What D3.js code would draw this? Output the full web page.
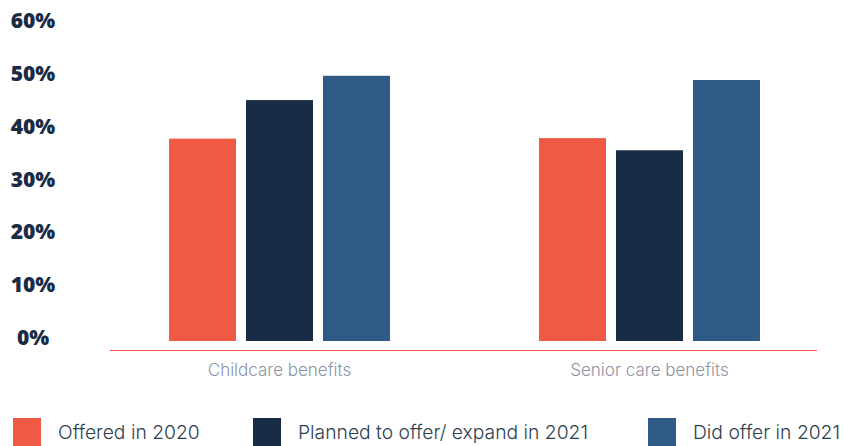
<!DOCTYPE html>
<html>
<head>
<meta charset="utf-8">
<script src="https://cdn.jsdelivr.net/npm/d3@7"></script>
<style>
  html, body { margin: 0; padding: 0; background: #fff; }
  svg { display: block; }
</style>
</head>
<body>
<div id="chart"></div>
<script>
// Benefit categories shown along the x axis
const categories = ["Childcare benefits", "Senior care benefits"];
// Series names (legend order)
const seriesNames = ["Offered in 2020", "Planned to offer/ expand in 2021", "Did offer in 2021"];
// Percent values per series, one per category
const offered2020 = [38.3, 38.4];
const planned2021 = [45.6, 36.1];
const didOffer2021 = [50.2, 49.4];
// Y axis tick values (percent)
const yTicks = [0, 10, 20, 30, 40, 50, 60];

const seriesValues = [offered2020, planned2021, didOffer2021];
const colors = ["#f05a44", "#182d45", "#2f5a85"];

const W = 843, H = 446;
const svg = d3.select("#chart").append("svg")
  .attr("width", W).attr("height", H);

const x0 = d3.scaleBand().domain(categories).range([94.5, 834.5]).padding(0);
const x1 = d3.scaleBand().domain(seriesNames).range([0, x0.bandwidth()])
  .paddingInner(0.13).paddingOuter(0.968);
const y = d3.scaleLinear().domain([0, 60]).range([341, 24]);

// Y axis labels only (no domain line or ticks)
const yAxis = svg.append("g")
  .attr("transform", "translate(33,0)")
  .call(d3.axisLeft(y).tickValues(yTicks).tickSize(0).tickPadding(0).tickFormat(d => d + "%"));
yAxis.select(".domain").remove();
yAxis.selectAll("text")
  .attr("text-anchor", "middle")
  .attr("dy", "0.36em")
  .attr("y", -4)
  .attr("fill", "#1a2b44")
  .style("font-family", "'Open Sans', Lato, sans-serif")
  .style("font-weight", "800")
  .style("font-size", "21px");

// Bars
const groups = svg.append("g").selectAll("g")
  .data(categories)
  .join("g")
  .attr("transform", d => `translate(${x0(d)},0)`);

groups.selectAll("rect")
  .data((d, i) => seriesNames.map((s, j) => ({ s, v: seriesValues[j][i], c: colors[j] })))
  .join("rect")
  .attr("x", d => x1(d.s))
  .attr("width", x1.bandwidth())
  .attr("y", d => y(d.v))
  .attr("height", d => y(0) - y(d.v))
  .attr("fill", d => d.c);

// Baseline
svg.append("line")
  .attr("x1", 110).attr("x2", 817)
  .attr("y1", 350.5).attr("y2", 350.5)
  .attr("stroke", "#f05a44").attr("stroke-width", 1.2);

// Category labels
svg.append("g").selectAll("text")
  .data(categories)
  .join("text")
  .attr("x", d => x0(d) + x0.bandwidth() / 2)
  .attr("y", 370)
  .attr("dy", "0.36em")
  .attr("text-anchor", "middle")
  .attr("fill", "#8a94a3")
  .style("font-family", "Inter, 'Open Sans', sans-serif")
  .style("font-weight", "300")
  .style("font-size", "17px")
  .text(d => d);

// Legend
const legendX = [13, 253, 648];
const legend = svg.append("g").selectAll("g")
  .data(seriesNames)
  .join("g")
  .attr("transform", (d, i) => `translate(${legendX[i]},418)`);
legend.append("rect")
  .attr("width", 28).attr("height", 28)
  .attr("fill", (d, i) => colors[i]);
legend.append("text")
  .attr("x", 45).attr("y", 14)
  .attr("dy", "0.36em")
  .attr("fill", "#2d3e50")
  .style("font-family", "Inter, 'Open Sans', sans-serif")
  .style("font-weight", "300")
  .style("font-size", "19.3px")
  .text(d => d);
</script>
</body>
</html>
